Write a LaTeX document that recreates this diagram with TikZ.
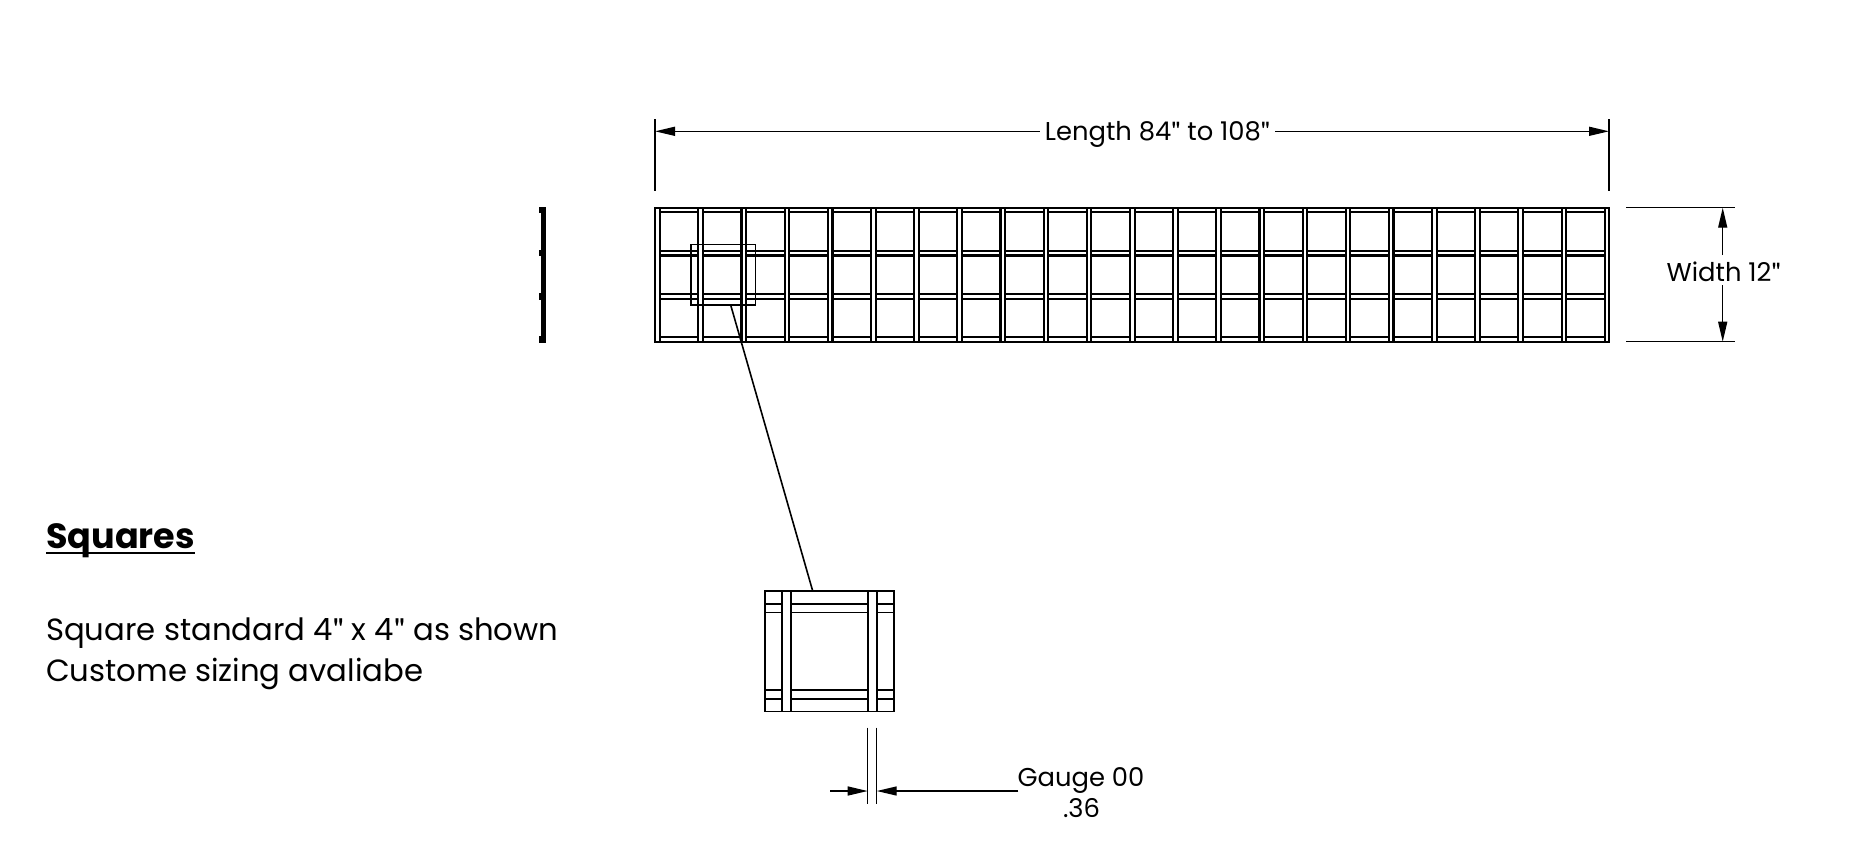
\documentclass[tikz,border=0pt]{standalone}
\usepackage{fontspec}
\setmainfont{Poppins}
\newfontfamily\quotefont{TeX Gyre Heros}
\newcommand{\inchmark}{{\quotefont"}}
\usetikzlibrary{arrows.meta}
\tikzset{
	part/.style={line width=2.1pt},
	thin part/.style={line width=1.6pt},
	dimline/.style={line width=1.4pt,-{Triangle[length=20pt,width=9pt]}},
	extline/.style={line width=1.5pt},
	dimtext/.style={inner sep=0pt,font=\fontsize{25.8}{30}\selectfont},
	notetext/.style={inner sep=0pt,anchor=base west,font=\fontsize{30.7}{36}\selectfont}
}

\begin{document}
\begin{tikzpicture}[x=1pt,y=-1pt]
	\useasboundingbox (0,0) rectangle (1867,844);

	% grating
	\foreach \y in {210,253.2,296.3,339.5}
		\draw[part] (655,\y-2.3) rectangle (1609,\y+2.3);
	\foreach \i in {0,...,22}
		\draw[part,fill=white] ({657.5+43.16*\i-2.3},207.7) rectangle ({657.5+43.16*\i+2.3},341.7);

	% side view
	\fill (540.7,207) rectangle (545.5,342);
	\foreach \y in {210,253.2,296.3,339.5}
		\fill (539,\y-3.2) rectangle (545.5,\y+3.2);

	% detail window and enlarged square
	\node (window) [draw,thin part,minimum width=64.6pt,minimum height=60.3pt,inner sep=0pt] at (723,274.8) {};
	\draw[thin part] (765,591) rectangle (893.7,711.3);
	\foreach \y in {603.7,612.3,690,698.7}
		\draw[thin part] (765,\y) -- (893.7,\y);
	\foreach \x in {781.7,867.7}
		\draw[thin part,fill=white] (\x,591) rectangle (\x+9,711.3);
	\coordinate (leadA) at (730.7,305.1);
	\coordinate (leadB) at (812.7,591);
	\draw[thin part] (leadA) -- (leadB);

	% length
	\coordinate (lenL) at (655,131.3);
	\coordinate (lenR) at (1609,131.3);
	\node (lenText) [dimtext] at (1157.5,134) {Length 84\inchmark{} to 108\inchmark};
	\draw[extline] (655,119.3) -- (655,190.7);
	\draw[extline] (1609,119.3) -- (1609,190.7);
	\draw[dimline] (1039.5,131.3) -- (lenL);
	\draw[dimline] (1275,131.3) -- (lenR);

	% width
	\coordinate (widT) at (1722.7,207.7);
	\coordinate (widB) at (1722.7,341.7);
	\node (widText) [dimtext] at (1723.7,271.5) {Width 12\inchmark};
	\draw[extline] (1626,207.7) -- (1735,207.7);
	\draw[extline] (1626,341.7) -- (1735,341.7);
	\draw[dimline] (1722.7,255) -- (widT);
	\draw[dimline] (1722.7,285) -- (widB);

	% gauge
	\coordinate (gaugeL) at (867.7,791);
	\coordinate (gaugeR) at (876.7,791);
	\node (gaugeText) [dimtext] at (1081,780.5) {Gauge 00};
	\node (gaugeVal) [dimtext] at (1081.5,808.5) {.36};
	\draw[extline] (867.7,727.7) -- (867.7,804);
	\draw[extline] (876.7,727.7) -- (876.7,804);
	\draw[dimline] (830,791) -- (gaugeL);
	\draw[dimline] (1018.3,791) -- (gaugeR);

	% notes
	\node (title) [notetext,font=\fontsize{35}{36}\selectfont\bfseries] at (46,548) {Squares};
	\draw[line width=2.5pt] ([yshift=-5pt]title.base west) -- ([yshift=-5pt]title.base east);
	\node (noteA) [notetext] at (46,640) {Square standard 4\inchmark{} x 4\inchmark{} as shown};
	\node (noteB) [notetext] at (46,681.7) {Custome sizing avaliabe};
\end{tikzpicture}
\end{document}
